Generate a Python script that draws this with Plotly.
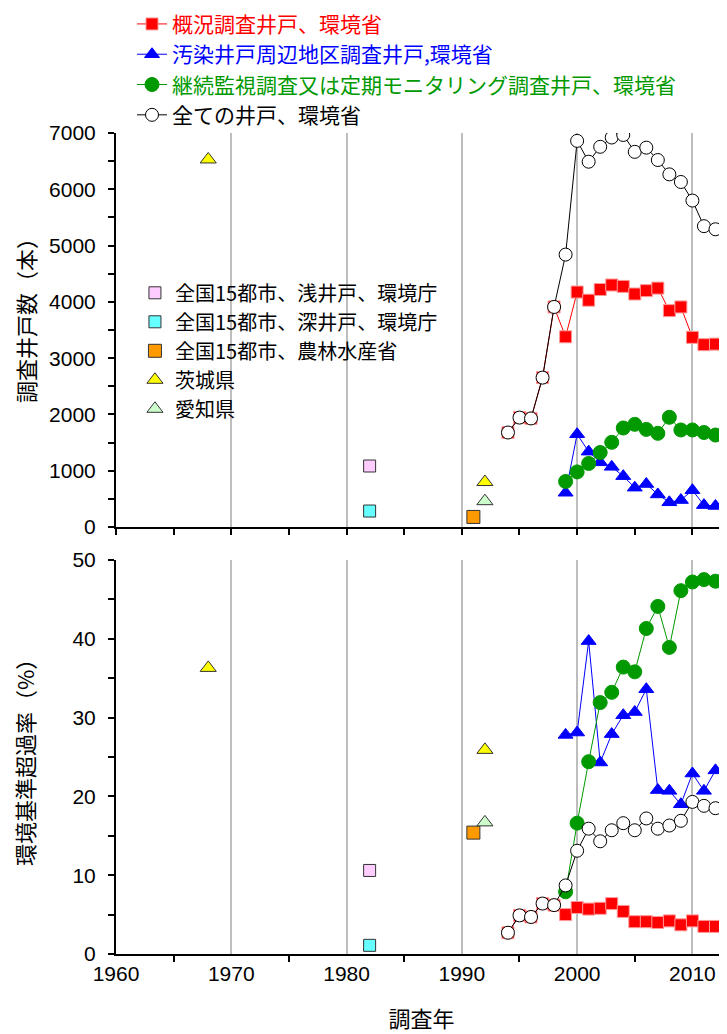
import plotly.graph_objects as go

# ---------------- data ----------------
years_env = [1994, 1995, 1996, 1997, 1998, 1999, 2000, 2001, 2002, 2003,
             2004, 2005, 2006, 2007, 2008, 2009, 2010, 2011, 2012]
years_new = [1999, 2000, 2001, 2002, 2003, 2004, 2005, 2006, 2007, 2008,
             2009, 2010, 2011, 2012]

# upper panel: number of wells surveyed
gaikyo_n = [1680, 1945, 1930, 2655, 3910, 3380, 4175, 4030, 4220, 4300,
            4275, 4140, 4200, 4245, 3845, 3910, 3370, 3240, 3250]
all_n = [1680, 1945, 1930, 2655, 3910, 4840, 6860, 6490, 6755, 6920,
         6965, 6665, 6740, 6520, 6265, 6130, 5800, 5345, 5290]
osen_n = [610, 1650, 1340, 1150, 1070, 905, 700, 765, 580, 440,
          480, 655, 390, 375]
keizoku_n = [810, 980, 1130, 1325, 1505, 1760, 1825, 1735, 1665, 1950,
             1725, 1725, 1680, 1635]

# lower panel: exceedance rate (%)
gaikyo_r = [2.7, 4.9, 4.7, 6.4, 6.2, 5.0, 5.9, 5.7, 5.8, 6.4,
            5.4, 4.1, 4.1, 4.0, 4.2, 3.7, 4.2, 3.5, 3.5]
all_r = [2.7, 4.9, 4.7, 6.4, 6.2, 8.7, 13.1, 15.9, 14.3, 15.7,
         16.6, 15.7, 17.2, 15.9, 16.3, 16.9, 19.3, 18.8, 18.5]
osen_r = [27.8, 28.1, 39.7, 24.3, 27.9, 30.3, 30.7, 33.6, 20.8, 20.7,
          19.0, 22.9, 20.7, 23.3]
keizoku_r = [7.9, 16.6, 24.4, 31.9, 33.2, 36.4, 35.8, 41.3, 44.1, 38.9,
             46.1, 47.2, 47.5, 47.3]

# older individual surveys
asaido_x, asaido_n, asaido_r = [1982], [1085], [10.6]
fukaido_x, fukaido_n, fukaido_r = [1982], [285], [1.1]
nourin_x, nourin_n, nourin_r = [1991], [180], [15.4]
ibaraki_x, ibaraki_n, ibaraki_r = [1968, 1992], [6530, 800], [36.3, 25.9]
aichi_x, aichi_n, aichi_r = [1992], [460], [16.7]

names_main = ["概況調査井戸、環境省", "汚染井戸周辺地区調査井戸,環境省",
              "継続監視調査又は定期モニタリング調査井戸、環境省", "全ての井戸、環境省"]
names_old = ["全国15都市、浅井戸、環境庁", "全国15都市、深井戸、環境庁",
             "全国15都市、農林水産省", "茨城県", "愛知県"]
title_upper = "調査井戸数（本）"
title_lower = "環境基準超過率（%）"
title_x = "調査年"

RED, BLUE, GREEN = "#FF0000", "#0000FF", "#009900"

fig = go.Figure()

main_series = [
    (years_env, gaikyo_n, gaikyo_r, names_main[0], RED,
     dict(symbol="square", size=12, color=RED, line=dict(color="#FF9999", width=1))),
    (years_new, osen_n, osen_r, names_main[1], BLUE,
     dict(symbol="triangle-up", size=13, color=BLUE, line=dict(color=BLUE, width=1))),
    (years_new, keizoku_n, keizoku_r, names_main[2], GREEN,
     dict(symbol="circle", size=14, color=GREEN, line=dict(color=GREEN, width=1))),
    (years_env, all_n, all_r, names_main[3], "#000000",
     dict(symbol="circle", size=13, color="#FFFFFF", line=dict(color="#000000", width=1))),
]

for xs, yn, yr, nm, col, mk in main_series:
    fig.add_trace(go.Scatter(
        x=xs, y=yn, mode="lines+markers", line=dict(color=col, width=1),
        marker=mk, name=f'<span style="color:{col}">{nm}</span>',
        legend="legend", legendgroup=nm, xaxis="x2", yaxis="y2"))
    fig.add_trace(go.Scatter(
        x=xs, y=yr, mode="lines+markers", line=dict(color=col, width=1),
        marker=mk, name=nm, showlegend=False, legendgroup=nm,
        xaxis="x", yaxis="y"))

old_series = [
    (asaido_x, asaido_n, asaido_r, names_old[0], "square", "#FFCCFF", 12),
    (fukaido_x, fukaido_n, fukaido_r, names_old[1], "square", "#66FFFF", 12),
    (nourin_x, nourin_n, nourin_r, names_old[2], "square", "#FF9900", 13),
    (ibaraki_x, ibaraki_n, ibaraki_r, names_old[3], "triangle-up", "#FFFF00", 14),
    (aichi_x, aichi_n, aichi_r, names_old[4], "triangle-up", "#CCFFCC", 14),
]
for xs, yn, yr, nm, sym, fc, sz in old_series:
    mk = dict(symbol=sym, size=sz, color=fc, line=dict(color="#333333", width=1))
    fig.add_trace(go.Scatter(x=xs, y=yn, mode="markers", marker=mk, name=nm,
                             legend="legend2", legendgroup=nm,
                             xaxis="x2", yaxis="y2"))
    fig.add_trace(go.Scatter(x=xs, y=yr, mode="markers", marker=mk, name=nm,
                             showlegend=False, legendgroup=nm,
                             xaxis="x", yaxis="y"))

JP = "Noto Sans CJK JP"
NUM = "Liberation Sans, Arial"

minor_x = dict(dtick=5, tick0=1960, ticks="outside", ticklen=6,
               tickwidth=1.5, tickcolor="#000000", showgrid=False)
xcommon = dict(range=[1960, 2013], dtick=10, tick0=1960, showgrid=True,
               gridcolor="#BDBDBD", gridwidth=1.5, zeroline=False,
               showline=True, linecolor="#000000", linewidth=2,
               tickwidth=1.5, tickcolor="#000000", minor=minor_x,
               tickfont=dict(family=NUM, size=21, color="#000000"),
               automargin=False)
ycommon = dict(showgrid=False, zeroline=False, showline=True,
               linecolor="#000000", linewidth=2, ticks="outside", ticklen=6,
               tickwidth=1.5, tickcolor="#000000", ticklabelstandoff=8,
               tickfont=dict(family=NUM, size=21, color="#000000"),
               automargin=False)

# the page body adds an 8px offset; size and margins compensate so the
# plot sits where the reference has it
fig.update_layout(
    width=719, height=1026,
    margin=dict(l=108, r=0, t=125, b=80, autoexpand=False),
    paper_bgcolor="#FFFFFF", plot_bgcolor="#FFFFFF",
    font=dict(family=JP, color="#000000"),
    xaxis=dict(**xcommon, domain=[0, 1], anchor="y",
               ticks="outside", ticklen=0,
               title=dict(text=title_x, font=dict(family=JP, size=22),
                          standoff=27)),
    yaxis=dict(**ycommon, domain=[0, 0.48], range=[0, 50], dtick=10,
               minor=dict(dtick=5, ticks="outside", ticklen=6, tickwidth=1.5,
                          tickcolor="#000000"),
               title=dict(text=title_lower, font=dict(family=JP, size=22),
                          standoff=33)),
    xaxis2=dict(**xcommon, domain=[0, 1], anchor="y2", matches="x",
                ticks="outside", ticklen=6, showticklabels=False),
    yaxis2=dict(**ycommon, domain=[0.52, 1], range=[0, 7000], dtick=1000,
                minor=dict(dtick=500, ticks="outside", ticklen=6, tickwidth=1.5,
                           tickcolor="#000000")),
    annotations=[dict(text=title_upper, xref="paper", yref="paper",
                      x=-0.1489, y=0.7783, textangle=-90, showarrow=False,
                      xanchor="center", yanchor="middle",
                      font=dict(family=JP, size=22, color="#000000"))],
    legend=dict(x=0.0262, y=1.1574, xanchor="left", yanchor="top",
                bgcolor="rgba(0,0,0,0)", font=dict(family=JP, size=21),
                itemwidth=30, traceorder="normal"),
    legend2=dict(x=0.031, y=0.8291, xanchor="left", yanchor="top",
                 bgcolor="rgba(0,0,0,0)",
                 font=dict(family=JP, size=20, color="#000000"),
                 itemwidth=30, traceorder="normal"),
    showlegend=True,
)

fig.write_html("out.html")
